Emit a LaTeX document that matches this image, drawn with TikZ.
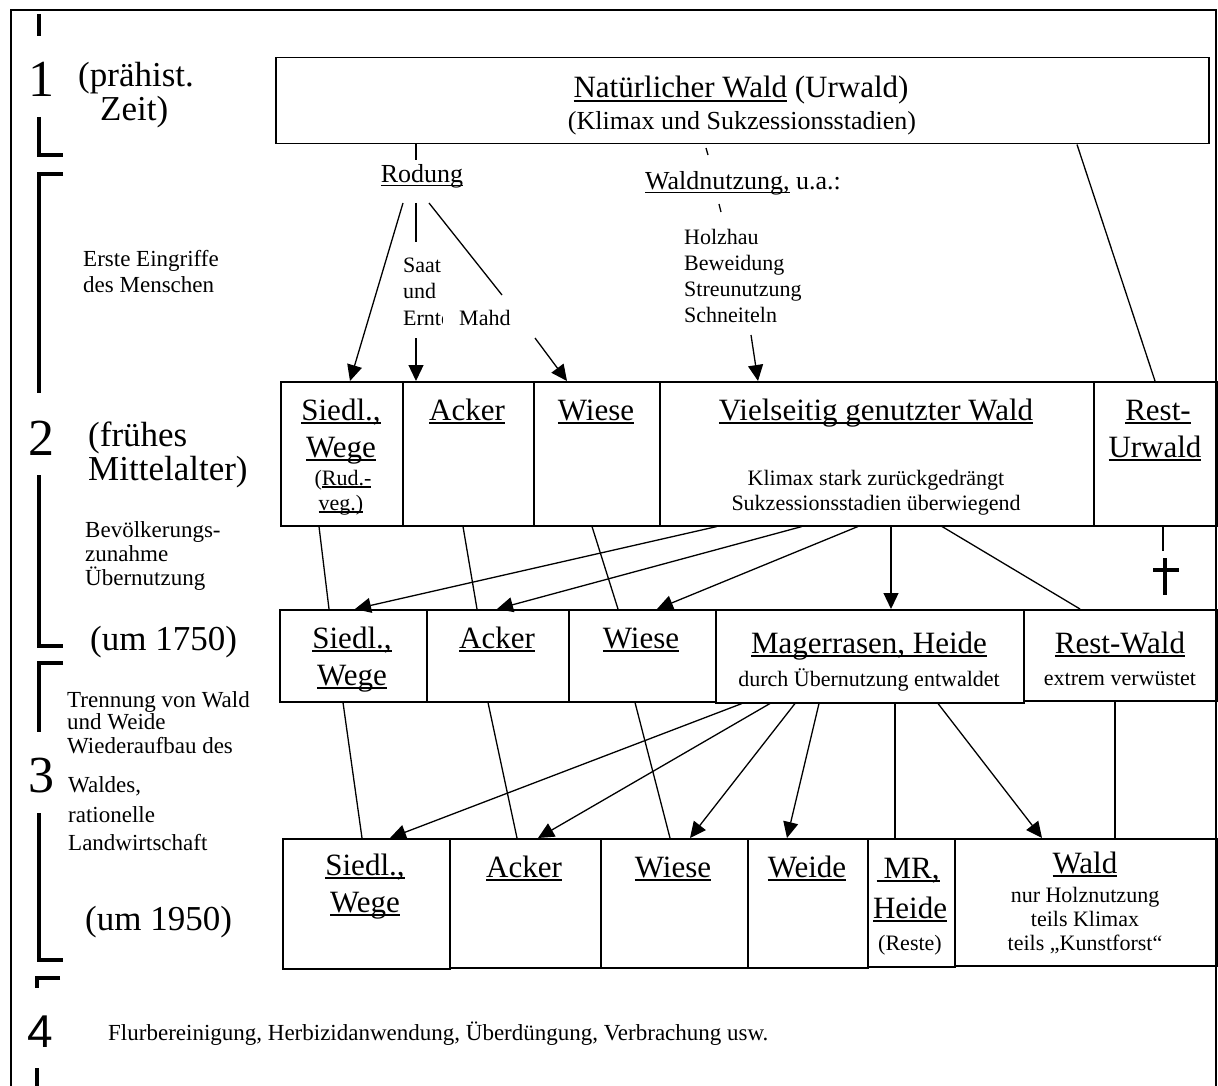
\documentclass[tikz,border=0pt]{standalone}
\usepackage{fontspec}
\setmainfont{Liberation Serif}
\newfontfamily\sansnum{Liberation Sans}
\usetikzlibrary{arrows.meta}
\newcommand\fbig{\fontsize{31}{35}\selectfont}
\newcommand\fper{\fontsize{35}{40}\selectfont}
\newcommand\fsm{\fontsize{22}{26}\selectfont}
\newcommand\fle{\fontsize{23}{27}\selectfont}
\newcommand\fnum{\fontsize{52}{56}\selectfont}
\newcommand\fmid{\fontsize{26}{30}\selectfont}
\newcommand\ulin[1]{\setbox0=\hbox{#1}\rlap{\rule[-0.13em]{\wd0}{0.065em}}\box0\relax}
\tikzset{
  box/.style={draw, line width=1.5pt, inner sep=0pt, anchor=north west},
  lbl/.style={anchor=base, inner sep=0pt},
  lblw/.style={anchor=base west, inner sep=0pt},
  conn/.style={line width=1.3pt},
  arr/.style={line width=1.3pt, -{Triangle[length=16pt,width=15pt]}},
  brk/.style={line width=4.5pt},
  frame/.style={line width=2pt}
}
\begin{document}
\begin{tikzpicture}[x=1pt,y=-1pt]
\useasboundingbox (0,0) rectangle (1218,1086);
% outer frame
\draw[frame] (11,1086) -- (11,10.5) -- (1216,10.5) -- (1216,1086);
% period brackets
\draw[brk] (39,14) -- (39,36);
\draw[brk] (39,117) -- (39,155) -- (63,155);
\draw[brk] (63,174) -- (39,174) -- (39,393);
\draw[brk] (39,475) -- (39,646) -- (63,646);
\draw[brk] (63,663) -- (39,663) -- (39,732);
\draw[brk] (39,813) -- (39,960) -- (63,960);
\draw[brk] (60,978) -- (37,978) -- (37,988);
\draw[brk] (37,1068) -- (37,1086);
% numbers
\node[lbl] (n1) at (41,97) {\fnum 1};
\node[lbl] (n2) at (41,455) {\fnum 2};
\node[lbl] (n3) at (41,792) {\fnum 3};
\node[lbl] (n4) at (40,1047) {\sansnum\fontsize{46}{50}\selectfont 4};
% period labels
\node[lblw] (p1a) at (78,87) {\fper (prähist.};
\node[lblw] (p1b) at (100,121) {\fper Zeit)};
\node[lblw] (p2a) at (88,446) {\fper (frühes};
\node[lblw] (p2b) at (88,480) {\fper Mittelalter)};
\node[lblw] (p2c) at (90,650) {\fper (um 1750)};
\node[lblw] (p3c) at (85,930) {\fper (um 1950)};
% left descriptions
\node[lblw] (d1a) at (83,266) {\fle Erste Eingriffe};
\node[lblw] (d1b) at (83,292) {\fle des Menschen};
\node[lblw] (d2a) at (85,537) {\fle Bevölkerungs-};
\node[lblw] (d2b) at (85,561) {\fle zunahme};
\node[lblw] (d2c) at (85,585) {\fle Übernutzung};
\node[lblw] (d3a) at (67,707) {\fle Trennung von Wald};
\node[lblw] (d3b) at (67,729) {\fle und Weide};
\node[lblw] (d3c) at (67,753) {\fle Wiederaufbau des};
\node[lblw] (d3d) at (68,792) {\fle Waldes,};
\node[lblw] (d3e) at (68,822) {\fle rationelle};
\node[lblw] (d3f) at (68,850) {\fle Landwirtschaft};
\node[lblw] (d4) at (108,1040) {\fle Flurbereinigung, Herbizidanwendung, Überdüngung, Verbrachung usw.};
% top box
\node[box, minimum width=933pt, minimum height=86pt] (top) at (275,57) {};
\node[lbl] (topa) at (741,98) {\fbig\ulin{Natürlicher Wald} (Urwald)};
\node[lbl] (topb) at (742,130) {\fmid (Klimax und Sukzessionsstadien)};
% Rodung / Waldnutzung
\node[lbl] (rod) at (422,183) {\fmid\ulin{Rodung}};
\node[lblw] (wn) at (645,190) {\fmid\ulin{Waldnutzung,} u.a.:};
\node[lblw] (h1) at (684,244) {\fsm Holzhau};
\node[lblw] (h2) at (684,270) {\fsm Beweidung};
\node[lblw] (h3) at (684,296) {\fsm Streunutzung};
\node[lblw] (h4) at (684,322) {\fsm Schneiteln};
\begin{scope}
\clip (395,250) rectangle (442,335);
\node[lblw] (sa1) at (403,272) {\fsm Saat};
\node[lblw] (sa2) at (403,298) {\fsm und};
\node[lblw] (sa3) at (403,325) {\fsm Ernte};
\end{scope}
\node[lblw] (mahd) at (459,325) {\fsm Mahd};
\coordinate (rt) at (416,160);
\coordinate (rc1) at (403,203);
\coordinate (rc2) at (416,203);
\coordinate (rc2e) at (416,242);
\coordinate (rc2s) at (416,338);
\coordinate (rc3) at (429,203);
\coordinate (rc3e) at (502,295);
\coordinate (mc) at (535,338);
\coordinate (wc) at (751,335);
\coordinate (k1a) at (706,148);
\coordinate (k1b) at (708,155);
\coordinate (k2a) at (719,204);
\coordinate (k2b) at (721,212);
% row 2
\node[box, minimum width=122pt, minimum height=144pt] (s2) at (280,381) {};
\node[box, minimum width=131pt, minimum height=144pt] (a2) at (402,381) {};
\node[box, minimum width=126pt, minimum height=144pt] (w2) at (533,381) {};
\node[box, minimum width=434pt, minimum height=144pt] (v2) at (659,381) {};
\node[box, minimum width=123pt, minimum height=144pt] (r2) at (1093,381) {};
\node[lbl] (s2a) at (341,420) {\fbig\ulin{Siedl.,}};
\node[lbl] (s2b) at (341,457) {\fbig\ulin{Wege}};
\node[lbl] (s2c) at (343,485) {\fsm(\ulin{Rud.-}};
\node[lbl] (s2d) at (341,510) {\fsm\ulin{veg.)}};
\node[lbl] (a2a) at (467,420) {\fbig\ulin{Acker}};
\node[lbl] (w2a) at (596,420) {\fbig\ulin{Wiese}};
\node[lbl] (v2a) at (876,420) {\fbig\ulin{Vielseitig genutzter Wald}};
\node[lbl] (v2b) at (876,485) {\fsm Klimax stark zurückgedrängt};
\node[lbl] (v2c) at (876,510) {\fsm Sukzessionsstadien überwiegend};
\node[lbl] (r2a) at (1158,420) {\fbig\ulin{Rest-}};
\node[lbl] (r2b) at (1155,457) {\fbig\ulin{Urwald}};
% row 3
\node[box, minimum width=147pt, minimum height=92pt] (s3) at (279,609) {};
\node[box, minimum width=142pt, minimum height=92pt] (a3) at (426,609) {};
\node[box, minimum width=147pt, minimum height=92pt] (w3) at (568,609) {};
\node[box, minimum width=308pt, minimum height=93pt] (m3) at (715,609) {};
\node[box, minimum width=193pt, minimum height=91pt] (r3) at (1023,609) {};
\node[lbl] (s3a) at (352,648) {\fbig\ulin{Siedl.,}};
\node[lbl] (s3b) at (352,685) {\fbig\ulin{Wege}};
\node[lbl] (a3a) at (497,648) {\fbig\ulin{Acker}};
\node[lbl] (w3a) at (641,648) {\fbig\ulin{Wiese}};
\node[lbl] (m3a) at (869,653) {\fbig\ulin{Magerrasen, Heide}};
\node[lbl] (m3b) at (869,686) {\fsm durch Übernutzung entwaldet};
\node[lbl] (r3a) at (1120,653) {\fbig\ulin{Rest-Wald}};
\node[lbl] (r3b) at (1120,685) {\fsm extrem verwüstet};
% row 4
\node[box, minimum width=167pt, minimum height=130pt] (s4) at (282,838) {};
\node[box, minimum width=151pt, minimum height=129pt] (a4) at (449,838) {};
\node[box, minimum width=147pt, minimum height=129pt] (w4) at (600,838) {};
\node[box, minimum width=120pt, minimum height=129pt] (e4) at (747,838) {};
\node[box, minimum width=87pt, minimum height=128pt] (mr4) at (867,838) {};
\node[box, minimum width=262pt, minimum height=127pt] (d4b) at (954,838) {};
\node[lbl] (s4a) at (365,875) {\fbig\ulin{Siedl.,}};
\node[lbl] (s4b) at (365,912) {\fbig\ulin{Wege}};
\node[lbl] (a4a) at (524,877) {\fbig\ulin{Acker}};
\node[lbl] (w4a) at (673,877) {\fbig\ulin{Wiese}};
\node[lbl] (e4a) at (807,877) {\fbig\ulin{Weide}};
\node[lbl] (mr4a) at (908,878) {\fbig\ulin{\hspace{7pt}MR,}};
\node[lbl] (mr4b) at (910,918) {\fbig\ulin{Heide}};
\node[lbl] (mr4c) at (910,950) {\fsm (Reste)};
\node[lbl] (d4a) at (1085,873) {\fbig\ulin{Wald}};
\node[lbl] (d4c) at (1085,902) {\fsm nur Holznutzung};
\node[lbl] (d4d) at (1085,926) {\fsm teils Klimax};
\node[lbl] (d4e) at (1085,950) {\fsm teils „Kunstforst“};
% connectors: top level
\draw[conn] ([xshift=141pt]top.south west) -- (rt);
\draw[conn] (k1a) -- (k1b);
\draw[conn] (k2a) -- (k2b);
\draw[arr] (rc1) -- ([xshift=70pt]s2.north west);
\draw[conn] (rc2) -- (rc2e);
\draw[arr] (rc2s) -- ([xshift=14pt]a2.north west);
\draw[conn] (rc3) -- (rc3e);
\draw[arr] (mc) -- ([xshift=34pt]w2.north west);
\draw[arr] (wc) -- ([xshift=99pt]v2.north west);
\draw[conn] ([xshift=802pt]top.south west) -- ([xshift=62pt]r2.north west);
% row 2 -> row 3
\draw[conn] ([xshift=39pt]s2.south west) -- ([xshift=50pt]s3.north west);
\draw[conn] ([xshift=61pt]a2.south west) -- ([xshift=51pt]a3.north west);
\draw[conn] ([xshift=59pt]w2.south west) -- ([xshift=50pt]w3.north west);
\draw[arr] ([xshift=58pt]v2.south west) -- ([xshift=76pt]s3.north west);
\draw[arr] ([xshift=143pt]v2.south west) -- ([xshift=71pt]a3.north west);
\draw[arr] ([xshift=199pt]v2.south west) -- ([xshift=89pt]w3.north west);
\draw[arr] ([xshift=232pt]v2.south west) -- ([xshift=176pt]m3.north west);
\draw[conn] ([xshift=283pt]v2.south west) -- ([xshift=57pt]r3.north west);
% cross
\coordinate (cr) at (1163,551);
\draw[conn] ([xshift=70pt]r2.south west) -- (cr);
\draw[line width=4.5pt] (1165,558) -- (1165,595);
\draw[line width=4.5pt] (1153,570) -- (1179,570);
% row 3 -> row 4
\draw[conn] ([xshift=64pt]s3.south west) -- ([xshift=80pt]s4.north west);
\draw[conn] ([xshift=62pt]a3.south west) -- ([xshift=68pt]a4.north west);
\draw[conn] ([xshift=67pt]w3.south west) -- ([xshift=70pt]w4.north west);
\draw[arr] ([xshift=27pt]m3.south west) -- ([xshift=108pt]s4.north west);
\draw[arr] ([xshift=55pt]m3.south west) -- ([xshift=89pt]a4.north west);
\draw[arr] ([xshift=80pt]m3.south west) -- ([xshift=90pt]w4.north west);
\draw[arr] ([xshift=104pt]m3.south west) -- ([xshift=40pt]e4.north west);
\draw[conn] ([xshift=180pt]m3.south west) -- ([xshift=28pt]mr4.north west);
\draw[arr] ([xshift=223pt]m3.south west) -- ([xshift=88pt]d4b.north west);
\draw[conn] ([xshift=92pt]r3.south west) -- ([xshift=161pt]d4b.north west);
\end{tikzpicture}
\end{document}
